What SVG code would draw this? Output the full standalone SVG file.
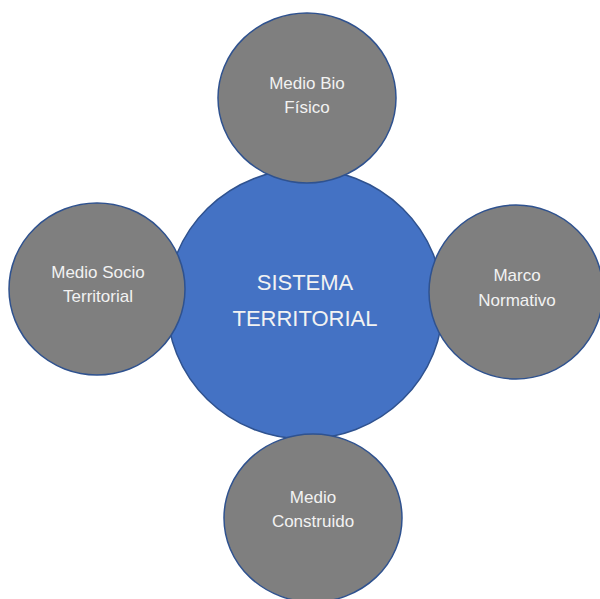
<svg xmlns="http://www.w3.org/2000/svg" width="600" height="599" viewBox="0 0 600 599">
  <style>
    .core { fill: #4472C4; stroke: #2F528F; stroke-width: 1.5; }
    .part { fill: #7F7F7F; stroke: #2F528F; stroke-width: 1.5; }
    .label { font-family: "Liberation Sans", Arial, sans-serif; fill: #F2F2F2; text-anchor: middle; }
    .small { font-size: 17px; }
    .big { font-size: 22px; }
  </style>
  <rect width="600" height="599" fill="#FFFFFF"/>

  <!-- central system -->
  <g id="sistema-territorial">
    <ellipse class="core" cx="305" cy="304" rx="138" ry="135"/>
    <text class="label big" x="305" y="290">SISTEMA</text>
    <text class="label big" x="305" y="326">TERRITORIAL</text>
  </g>

  <!-- surrounding components -->
  <g id="medio-bio-fisico">
    <ellipse class="part" cx="307" cy="98" rx="89" ry="85"/>
    <text class="label small" x="307" y="89">Medio Bio</text>
    <text class="label small" x="307" y="113">Físico</text>
  </g>

  <g id="medio-socio-territorial">
    <ellipse class="part" cx="97" cy="289" rx="88" ry="86"/>
    <text class="label small" x="98" y="278">Medio Socio</text>
    <text class="label small" x="98" y="302">Territorial</text>
  </g>

  <g id="marco-normativo">
    <ellipse class="part" cx="516" cy="292" rx="87" ry="87"/>
    <text class="label small" x="517" y="281">Marco</text>
    <text class="label small" x="517" y="306">Normativo</text>
  </g>

  <g id="medio-construido">
    <ellipse class="part" cx="313" cy="518" rx="89" ry="84"/>
    <text class="label small" x="313" y="503">Medio</text>
    <text class="label small" x="313" y="527">Construido</text>
  </g>
</svg>
